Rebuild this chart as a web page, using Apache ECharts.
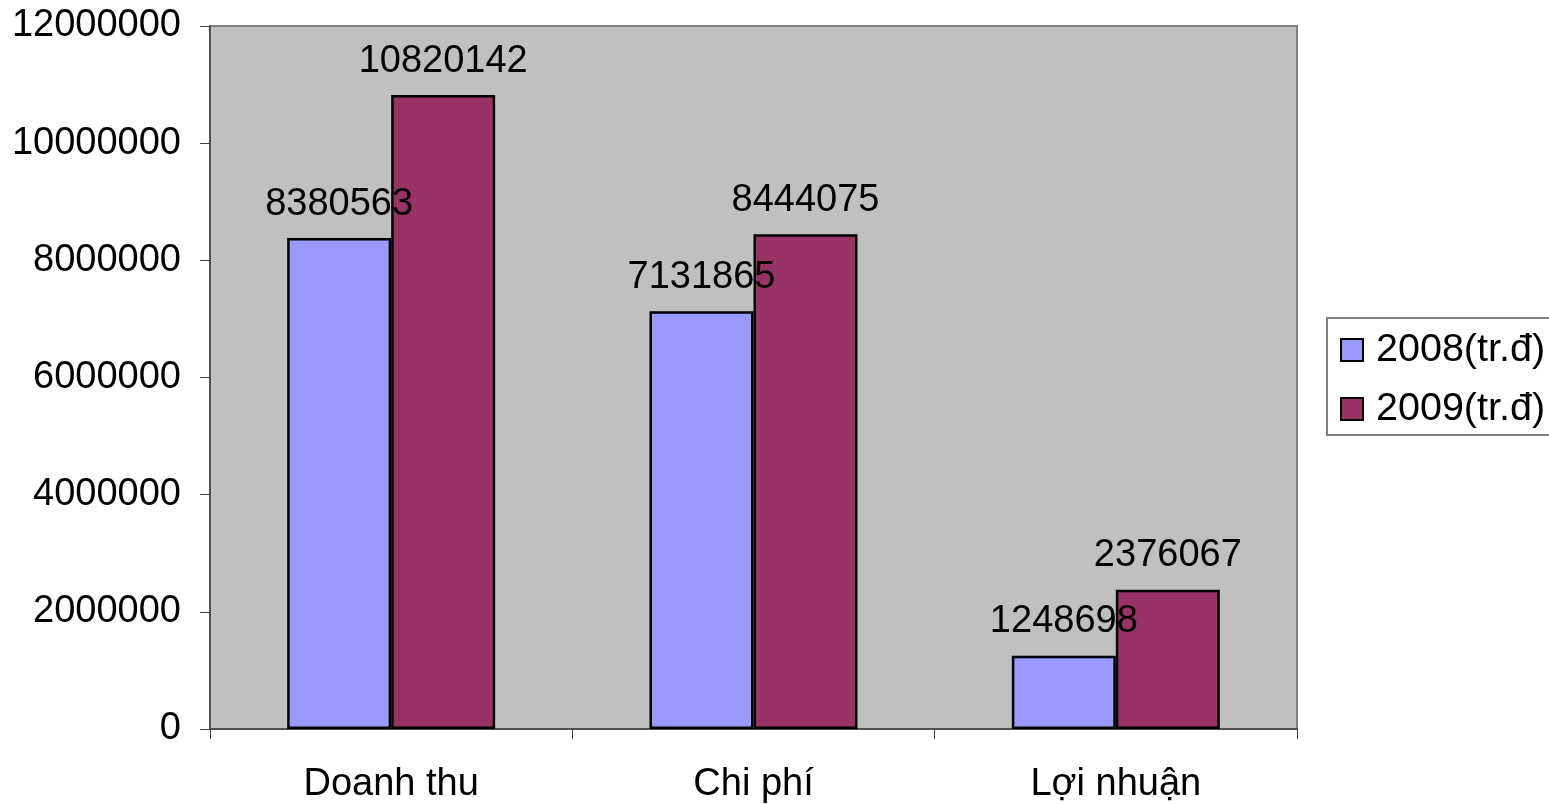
<!DOCTYPE html>
<html>
<head>
<meta charset="utf-8">
<script src="https://cdn.jsdelivr.net/npm/echarts@6/dist/echarts.min.js"></script>
<style>
  html, body { margin: 0; padding: 0; background: #ffffff; }
  #chart { width: 1549px; height: 804px; }
</style>
</head>
<body>
<div id="chart"></div>
<script>
// Revenue, cost and profit for two years (million dong)
const categories = ['Doanh thu', 'Chi phí', 'Lợi nhuận'];
const seriesNames = ['2008(tr.đ)', '2009(tr.đ)'];
const values2008 = [8380563, 7131865, 1248698];
const values2009 = [10820142, 8444075, 2376067];
const yTicks = { min: 0, max: 12000000, interval: 2000000 };

const FONT = '"Liberation Sans", Arial, sans-serif';
const FS = 38;
const chart = echarts.init(document.getElementById('chart'), null, { renderer: 'canvas' });

const labelCfg = {
  show: true,
  position: 'top',
  distance: 15,
  color: '#000',
  fontFamily: FONT,
  fontSize: FS
};

chart.setOption({
  animation: false,
  textStyle: { fontFamily: FONT },
  grid: {
    left: 210, right: 252, top: 26, bottom: 74,
    show: true,
    backgroundColor: '#C0C0C0',
    borderColor: '#808080',
    borderWidth: 2
  },
  legend: {
    orient: 'vertical',
    left: 1327,
    top: 318,
    data: seriesNames,
    icon: 'rect',
    itemWidth: 22,
    itemHeight: 22,
    itemGap: 19,
    padding: [12, 20, 6, 13],
    backgroundColor: '#ffffff',
    borderColor: '#808080',
    borderWidth: 2,
    borderRadius: 0,
    textStyle: { color: '#000', fontSize: 39.5, fontFamily: FONT, lineHeight: 40, padding: [0, 0, 0, 8] }
  },
  xAxis: {
    type: 'category',
    data: categories,
    boundaryGap: true,
    axisLine: { lineStyle: { color: '#404040', width: 1.5 } },
    axisTick: { show: true, length: 10, lineStyle: { color: '#404040' } },
    axisLabel: { color: '#000', fontSize: FS, fontFamily: FONT, margin: 37 },
    splitLine: { show: false }
  },
  yAxis: {
    type: 'value',
    min: yTicks.min,
    max: yTicks.max,
    interval: yTicks.interval,
    axisLine: { show: true, lineStyle: { color: '#404040', width: 1.5 } },
    axisTick: { show: true, length: 10, lineStyle: { color: '#404040' } },
    axisLabel: {
      color: '#000', fontSize: FS, fontFamily: FONT, margin: 29,
      padding: [6, 0, 0, 0],
      formatter: (v) => String(v)
    },
    splitLine: { show: false }
  },
  series: [
    {
      name: seriesNames[0],
      type: 'bar',
      data: values2008,
      barWidth: 104,
      barGap: '0%',
      itemStyle: { color: '#9999FF', borderColor: '#000', borderWidth: 2.5 },
      label: labelCfg
    },
    {
      name: seriesNames[1],
      type: 'bar',
      data: values2009,
      barWidth: 104,
      barGap: '0%',
      itemStyle: { color: '#993366', borderColor: '#000', borderWidth: 2.5 },
      label: labelCfg
    }
  ]
});
</script>
</body>
</html>
